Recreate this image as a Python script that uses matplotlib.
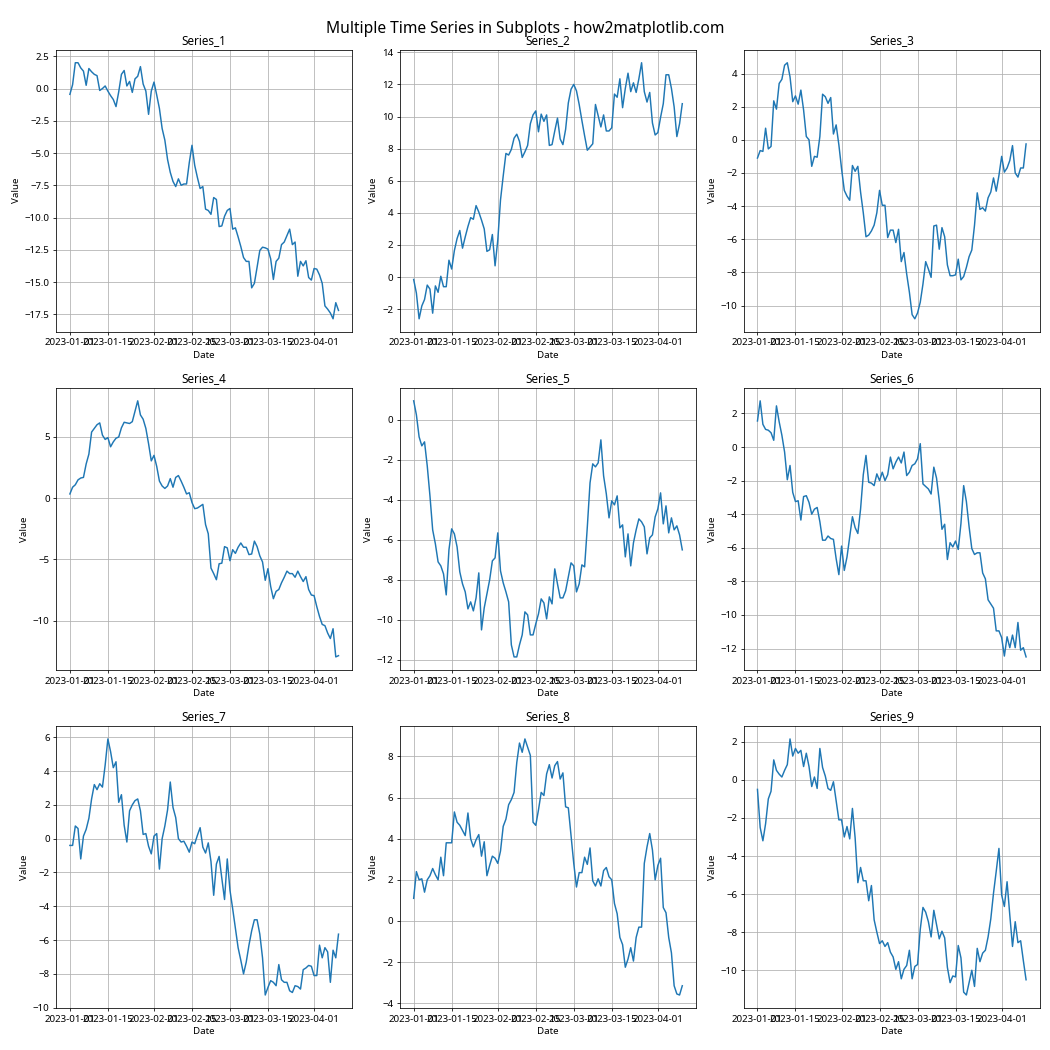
import matplotlib
matplotlib.use("Agg")
import matplotlib.pyplot as plt
import pandas as pd

plt.rcParams['font.family'] = ['Noto Sans', 'DejaVu Sans']

dates = pd.date_range('2023-01-01', periods=100, freq='D')
names = ['Series_1', 'Series_2', 'Series_3', 'Series_4', 'Series_5',
         'Series_6', 'Series_7', 'Series_8', 'Series_9']

s1 = [-0.45, 0.3, 2.0, 2.0, 1.6, 1.35, 0.25, 1.55, 1.3, 1.1,
      1.0, -0.15, 0.0, 0.2, -0.2, -0.55, -0.85, -1.4, -0.25, 1.1,
      1.4, 0.2, 0.55, -0.3, 0.75, 0.95, 1.7, 0.35, -0.2, -2.0,
      -0.2, 0.5, -0.5, -1.55, -3.1, -4.0, -5.5, -6.5, -7.2, -7.6,
      -7.0, -7.5, -7.4, -7.4, -5.75, -4.4, -5.95, -6.9, -7.75, -7.6,
      -9.35, -9.45, -9.75, -8.45, -8.6, -10.7, -10.65, -9.9, -9.45, -9.3,
      -10.9, -10.8, -11.5, -12.25, -13.1, -13.4, -13.4, -15.45, -15.1, -13.85,
      -12.55, -12.3, -12.35, -12.45, -13.2, -14.8, -13.4, -13.15, -12.1, -11.9,
      -11.4, -10.9, -12.1, -11.9, -14.55, -13.4, -13.75, -13.35, -14.65, -14.85,
      -13.95, -14.0, -14.45, -15.1, -16.85, -17.1, -17.4, -17.85, -16.6, -17.2]

s2 = [-0.15, -1.0, -2.6, -1.8, -1.4, -0.5, -0.75, -2.25, -0.55, -0.95,
      0.05, -0.6, -0.6, 1.05, 0.5, 1.65, 2.4, 2.9, 1.8, 2.5,
      3.15, 3.7, 3.6, 4.45, 4.05, 3.55, 3.0, 1.6, 1.7, 2.65,
      0.7, 2.3, 4.8, 6.3, 7.7, 7.6, 7.95, 8.65, 8.9, 8.45,
      7.45, 7.8, 8.2, 9.55, 10.1, 10.35, 9.05, 10.15, 9.7, 10.1,
      8.2, 8.25, 9.1, 9.9, 8.6, 8.25, 9.2, 10.85, 11.7, 12.0,
      11.6, 10.75, 9.75, 8.8, 7.9, 8.1, 8.3, 10.75, 10.05, 9.35,
      10.1, 9.1, 9.1, 9.3, 11.4, 11.2, 12.35, 10.55, 11.75, 12.7,
      11.55, 12.1, 11.5, 12.35, 13.35, 11.55, 10.9, 11.5, 9.6, 8.85,
      9.0, 9.95, 10.8, 12.6, 12.6, 11.75, 10.6, 8.75, 9.55, 10.8]

s3 = [-1.1, -0.65, -0.7, 0.7, -0.55, -0.4, 2.35, 1.85, 3.4, 3.65,
      4.5, 4.65, 3.8, 2.3, 2.65, 2.15, 3.0, 1.8, 0.2, 0.0,
      -1.6, -1.0, -1.05, 0.2, 2.75, 2.6, 2.2, 2.55, 0.35, 0.9,
      -0.3, -1.75, -3.05, -3.4, -3.65, -1.55, -1.9, -1.6, -3.15, -4.4,
      -5.85, -5.75, -5.5, -5.15, -4.4, -3.05, -3.95, -3.95, -5.9, -5.45,
      -5.45, -6.2, -5.4, -7.35, -6.8, -8.1, -9.2, -10.55, -10.8, -10.45,
      -9.8, -8.7, -7.35, -7.8, -8.3, -5.2, -5.15, -6.6, -5.3, -5.85,
      -7.55, -8.2, -8.2, -8.15, -7.2, -8.45, -8.25, -7.7, -7.05, -6.65,
      -5.15, -3.2, -4.2, -4.1, -4.3, -3.5, -3.15, -2.3, -3.1, -2.15,
      -1.0, -1.95, -1.7, -1.25, -0.35, -2.0, -2.25, -1.7, -1.7, -0.25]

s4 = [0.35, 0.9, 1.1, 1.5, 1.65, 1.7, 2.8, 3.6, 5.4, 5.7,
      6.0, 6.15, 5.15, 4.8, 4.95, 4.2, 4.6, 4.9, 5.0, 5.75,
      6.2, 6.15, 6.1, 6.25, 7.1, 7.95, 6.8, 6.45, 5.7, 4.45,
      3.05, 3.5, 2.6, 1.4, 1.0, 0.8, 1.0, 1.6, 0.9, 1.7,
      1.85, 1.4, 0.9, 0.35, 0.45, -0.35, -0.85, -0.8, -0.65, -0.5,
      -2.15, -2.9, -5.7, -6.15, -6.65, -5.35, -5.3, -3.95, -4.05, -5.1,
      -4.2, -4.5, -4.0, -3.65, -4.0, -4.0, -4.6, -4.55, -3.5, -3.95,
      -4.7, -5.2, -6.7, -5.75, -7.2, -8.2, -7.6, -7.45, -6.9, -6.45,
      -5.95, -6.15, -6.15, -6.45, -5.95, -6.4, -6.8, -6.4, -7.45, -7.9,
      -7.95, -8.85, -9.65, -10.3, -10.4, -11.0, -11.45, -10.65, -12.95, -12.85]

s5 = [0.95, 0.25, -0.85, -1.3, -1.1, -2.3, -3.8, -5.5, -6.2, -7.1,
      -7.3, -7.7, -8.75, -6.5, -5.45, -5.7, -6.35, -7.6, -8.2, -8.6,
      -9.45, -9.1, -9.55, -8.9, -7.65, -10.5, -9.4, -8.7, -8.0, -7.05,
      -6.9, -5.65, -7.55, -8.15, -8.6, -9.1, -11.25, -11.85, -11.85, -11.25,
      -10.75, -9.6, -9.75, -10.75, -10.75, -10.2, -9.7, -8.95, -9.15, -9.95,
      -8.85, -9.2, -7.45, -8.2, -8.9, -8.9, -8.55, -7.85, -7.15, -7.3,
      -8.6, -8.2, -7.25, -7.35, -5.35, -3.15, -2.2, -2.35, -2.15, -1.0,
      -2.8, -3.7, -4.9, -4.05, -4.25, -3.8, -5.4, -5.25, -6.85, -5.7,
      -7.3, -6.15, -5.5, -4.95, -5.1, -5.35, -6.7, -5.9, -5.75, -4.85,
      -4.45, -3.65, -5.2, -4.3, -5.65, -4.9, -5.5, -5.3, -5.75, -6.5]

s6 = [1.55, 2.75, 1.35, 1.05, 1.0, 0.85, 0.4, 2.45, 1.5, 0.7,
      -0.3, -1.95, -1.1, -2.7, -3.25, -3.2, -4.35, -2.95, -2.9, -3.3,
      -4.0, -3.7, -3.6, -4.45, -5.55, -5.55, -5.3, -5.45, -5.5, -6.65,
      -7.6, -5.9, -7.35, -6.55, -5.35, -4.15, -4.8, -5.15, -3.7, -1.65,
      -0.5, -2.1, -2.15, -2.3, -1.6, -2.0, -1.5, -2.0, -1.65, -0.6,
      -1.3, -0.9, -0.6, -0.95, -0.3, -1.7, -1.5, -1.1, -1.0, -0.7,
      0.2, -2.2, -2.35, -2.5, -2.8, -1.2, -1.85, -3.2, -4.9, -4.6,
      -6.7, -5.7, -5.95, -5.6, -6.1, -4.55, -2.3, -3.25, -4.75, -6.05,
      -6.4, -6.3, -6.3, -7.5, -7.85, -9.1, -9.35, -9.6, -10.95, -10.95,
      -11.35, -12.45, -11.3, -11.95, -11.2, -11.95, -10.45, -12.1, -11.95, -12.5]

s7 = [-0.4, -0.4, 0.75, 0.6, -1.2, 0.15, 0.55, 1.2, 2.35, 3.2,
      2.9, 3.25, 3.05, 4.35, 5.9, 5.15, 4.2, 4.55, 2.15, 2.6,
      0.8, -0.2, 1.65, 2.0, 2.25, 2.35, 1.65, 0.25, 0.3, -0.45,
      -0.9, 0.15, 0.3, -1.8, 0.0, 0.75, 1.7, 3.35, 1.85, 1.25,
      0.0, -0.2, -0.15, -0.45, -0.8, -0.2, -0.3, 0.2, 0.65, -0.5,
      -0.85, -0.25, -1.35, -3.35, -1.5, -1.05, -2.35, -3.6, -1.2, -3.05,
      -4.15, -5.3, -6.45, -7.2, -8.0, -7.3, -6.3, -5.45, -4.8, -4.8,
      -5.65, -7.05, -9.25, -8.8, -8.4, -8.5, -8.7, -7.45, -8.35, -8.5,
      -8.5, -9.0, -9.1, -8.7, -8.75, -8.9, -7.75, -7.65, -7.5, -7.55,
      -8.1, -8.1, -6.3, -7.05, -6.45, -6.7, -8.5, -6.6, -7.05, -5.65]

s8 = [1.1, 2.4, 2.0, 2.05, 1.4, 2.0, 2.2, 2.55, 2.25, 2.0,
      3.1, 2.2, 3.8, 3.8, 3.8, 5.3, 4.8, 4.65, 4.4, 4.15,
      5.25, 4.0, 3.6, 3.95, 4.2, 3.15, 3.85, 2.2, 2.7, 3.15,
      3.05, 2.8, 3.4, 4.6, 4.95, 5.65, 5.9, 6.25, 7.7, 8.65,
      8.2, 8.85, 8.45, 8.05, 4.8, 4.65, 5.4, 6.25, 6.1, 7.15,
      7.6, 6.95, 7.55, 7.75, 6.9, 7.2, 5.55, 5.5, 4.15, 2.8,
      1.65, 2.35, 2.35, 3.1, 2.75, 3.55, 1.95, 1.7, 2.05, 1.7,
      2.45, 2.6, 2.15, 2.0, 0.85, 0.35, -0.8, -1.15, -2.25, -1.85,
      -1.3, -1.95, -0.8, -0.3, -0.3, 2.8, 3.6, 4.25, 3.45, 2.0,
      2.7, 3.05, 0.65, 0.4, -0.8, -1.55, -3.15, -3.55, -3.6, -3.15]

s9 = [-0.5, -2.5, -3.2, -2.3, -1.0, -0.6, 1.05, 0.5, 0.3, 0.15,
      0.5, 0.8, 2.15, 1.25, 1.65, 1.4, 1.55, 0.7, 1.4, 0.7,
      -0.35, 0.15, -0.45, 1.65, 0.65, 0.2, -0.45, -0.55, -0.1, -1.1,
      -2.1, -2.1, -3.0, -2.45, -3.1, -1.5, -3.05, -5.4, -4.6, -5.3,
      -5.3, -6.35, -5.55, -7.35, -8.0, -8.6, -8.45, -8.75, -8.55, -9.05,
      -9.3, -9.95, -9.55, -10.45, -9.95, -9.75, -8.95, -10.45, -9.8, -9.7,
      -7.85, -6.7, -6.95, -7.45, -8.25, -6.85, -7.6, -8.35, -7.95, -8.3,
      -9.85, -10.65, -10.3, -10.35, -8.7, -9.35, -11.15, -11.3, -10.65, -10.0,
      -10.85, -8.85, -9.55, -9.1, -8.95, -8.25, -7.3, -5.95, -4.8, -3.6,
      -6.05, -6.65, -5.35, -7.1, -8.75, -7.45, -8.55, -8.45, -9.5, -10.5]

series = [s1, s2, s3, s4, s5, s6, s7, s8, s9]

fig, axes = plt.subplots(3, 3, figsize=(15, 15))
fig.suptitle('Multiple Time Series in Subplots - how2matplotlib.com', fontsize=16)

for ax, name, values in zip(axes.flat, names, series):
    ax.plot(dates, values)
    ax.set_title(name)
    ax.set_xlabel('Date')
    ax.set_ylabel('Value')
    ax.grid(True)

plt.tight_layout()
plt.savefig('out.png', dpi=70)
